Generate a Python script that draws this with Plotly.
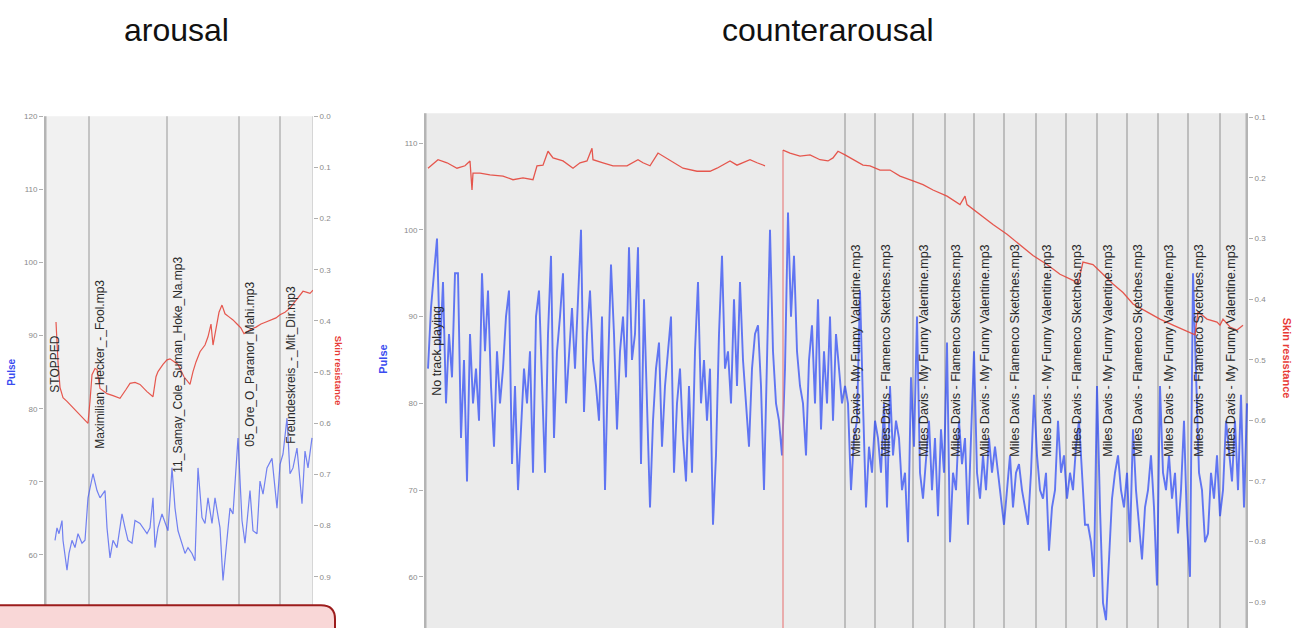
import plotly.graph_objects as go

# ---------------- data ----------------
# Left panel ("arousal"): time in seconds from the left edge of the chart
t_left_pulse = [11, 13, 15, 18, 19, 23, 25, 28, 31, 34, 38, 41, 44, 48, 49, 53, 56, 61, 63, 66,
                69, 73, 78, 81, 84, 88, 91, 96, 99, 103, 106, 109, 111, 114, 118, 121, 124, 128, 131, 134,
                138, 141, 144, 148, 151, 154, 158, 161, 164, 168, 171, 176, 179, 183, 186, 189, 194, 198, 201, 206,
                209, 213, 216, 219, 223, 228, 233, 236, 239, 243, 246, 249, 253, 256, 258, 261, 264, 268]
pulse_left = [62.0, 63.7, 62.9, 64.7, 62.0, 57.9, 60.2, 62.0, 61.0, 62.9, 61.6, 62.0, 67.8, 70.1, 71.1, 68.8, 67.8, 68.8, 63.7, 59.6,
              62.0, 61.0, 65.6, 63.7, 62.0, 61.6, 64.7, 64.3, 63.7, 62.9, 63.7, 67.8, 61.0, 63.7, 65.6, 64.3, 63.3, 71.9, 66.4, 63.3,
              61.6, 60.2, 61.0, 60.2, 59.2, 71.9, 65.1, 64.3, 67.8, 64.3, 67.8, 63.7, 56.5, 62.0, 66.4, 65.6, 76.0, 64.7, 61.6, 68.8,
              63.3, 62.9, 70.1, 68.3, 71.9, 73.2, 66.4, 72.4, 73.8, 78.7, 71.1, 71.9, 74.6, 70.1, 67.0, 74.2, 71.9, 76.0]

t_left_skin = [12, 13, 14, 16, 19, 23, 31, 38, 44, 46, 48, 51, 53, 56, 63, 69, 76, 82, 86, 91,
               96, 103, 109, 112, 114, 119, 123, 126, 130, 134, 140, 146, 149, 152, 156, 161, 164, 167, 169, 172,
               175, 178, 181, 185, 189, 193, 197, 200, 203, 207, 212, 217, 222, 227, 232, 236, 241, 246, 251, 256,
               259, 263, 266, 269]
skin_left = [0.402, 0.45, 0.48, 0.53, 0.55, 0.557, 0.573, 0.586, 0.60, 0.557, 0.505, 0.493, 0.495, 0.532, 0.542, 0.546, 0.551, 0.534, 0.522, 0.52,
             0.524, 0.538, 0.548, 0.509, 0.499, 0.485, 0.476, 0.474, 0.48, 0.485, 0.509, 0.524, 0.499, 0.48, 0.46, 0.447, 0.431, 0.406, 0.447, 0.412,
             0.383, 0.369, 0.386, 0.392, 0.398, 0.406, 0.414, 0.425, 0.421, 0.416, 0.412, 0.406, 0.402, 0.398, 0.394, 0.388, 0.383, 0.375, 0.363, 0.35,
             0.342, 0.344, 0.346, 0.34]

left_marker_t = [0, 45, 123, 195, 236]
left_marker_labels = ["STOPPED", "Maximilian_Hecker_-_Fool.mp3", "11_Samay_Cole_Suman_Hoke_Na.mp3",
                      "05_Ore_O_Paranor_Mahi.mp3", "Freundeskreis_-_Mit_Dir.mp3"]
left_end_t = 269

# Right panel ("counterarousal")
pulse_right_start = 4
pulse_right_step = 3
pulse_right = [84, 91, 95, 99, 86, 94, 80, 88, 83, 95,
               95, 76, 85, 71, 88, 80, 84, 78, 95, 86,
               93, 82, 75, 86, 80, 84, 90, 93, 73, 82,
               70, 78, 84, 80, 86, 72, 90, 93, 82, 72,
               88, 97, 76, 86, 90, 95, 80, 86, 91, 84,
               92, 100, 79, 88, 93, 85, 82, 78, 90, 70,
               84, 96, 88, 77, 86, 90, 83, 98, 85, 88,
               98, 73, 92, 80, 68, 78, 84, 87, 75, 82,
               86, 90, 72, 80, 84, 76, 71, 82, 72, 86,
               94, 80, 85, 78, 84, 66, 74, 88, 97, 84,
               86, 80, 92, 82, 94, 85, 80, 75, 84, 88,
               89, 82, 70, 84, 100, 86, 80, 78, 74, 84,
               102, 90, 97, 86, 82, 80, 74, 85, 89, 80,
               92, 77, 86, 80, 90, 78, 88, 84, 80, 82,
               80, 70, 76, 78, 93, 80, 68, 75, 72, 78,
               76, 72, 80, 68, 82, 74, 78, 76, 70, 72,
               64, 83, 75, 90, 72, 69, 74, 78, 70, 76,
               67, 77, 72, 87, 64, 72, 70, 78, 73, 76,
               66, 76, 86, 72, 69, 74, 70, 76, 72, 75,
               72, 69, 66, 70, 74, 68, 72, 73, 70, 68,
               66, 72, 81, 74, 70, 69, 72, 63, 68, 70,
               78, 72, 74, 69, 72, 70, 75, 78, 72, 66,
               66, 64, 60, 82, 68, 57, 55, 62, 69, 72,
               74, 70, 68, 72, 64, 77, 70, 66, 62, 68,
               70, 74, 68, 59, 82, 72, 70, 74, 69, 72,
               65, 70, 78, 66, 60, 95, 82, 72, 70, 64,
               65, 72, 69, 74, 67, 70, 78, 74, 71, 78,
               70, 81, 68, 80]
t_right_pulse = [pulse_right_start + i * pulse_right_step for i in range(len(pulse_right))]

t_right_skin_a = [4, 14, 23, 33, 41, 46, 48, 49, 56, 66, 79, 89, 99, 109, 113, 119, 124, 129, 139, 149,
                  156, 163, 168, 169, 179, 189, 203, 214, 219, 226, 234, 239, 249, 259, 273, 286, 293, 299, 306, 313,
                  319, 326, 333, 341]
skin_right_a = [0.184, 0.170, 0.175, 0.184, 0.180, 0.172, 0.220, 0.192, 0.192, 0.195, 0.197, 0.203, 0.200, 0.203, 0.180, 0.179, 0.156, 0.167, 0.172, 0.184,
                0.175, 0.172, 0.151, 0.170, 0.175, 0.180, 0.180, 0.170, 0.175, 0.180, 0.159, 0.164, 0.175, 0.184, 0.189, 0.189, 0.184, 0.179, 0.172, 0.179,
                0.175, 0.170, 0.175, 0.180]
t_right_skin_b = [359, 366, 376, 386, 396, 404, 409, 414, 421, 429, 439, 446, 456, 466, 476, 489, 499, 509, 523, 536,
                  541, 543, 556, 569, 583, 596, 609, 623, 636, 649, 654, 659, 669, 679, 689, 699, 709, 723, 736, 749,
                  763, 771, 774, 783, 793, 796, 799, 806, 813, 819]
skin_right_b = [0.154, 0.159, 0.164, 0.162, 0.170, 0.172, 0.167, 0.156, 0.162, 0.170, 0.179, 0.180, 0.187, 0.187, 0.197, 0.205, 0.211, 0.220, 0.230, 0.244,
                0.230, 0.244, 0.261, 0.277, 0.293, 0.310, 0.328, 0.343, 0.359, 0.369, 0.375, 0.339, 0.343, 0.359, 0.375, 0.389, 0.408, 0.421, 0.433, 0.443,
                0.454, 0.459, 0.421, 0.433, 0.438, 0.443, 0.433, 0.446, 0.451, 0.443]
skin_dropout_value = 0.96

right_marker_t = [0, 421, 451, 489, 521, 550, 580, 612, 642, 673, 703, 734, 764, 796]
right_marker_labels = ["No track playing"] + [
    "Miles Davis - My Funny Valentine.mp3" if i % 2 == 0 else "Miles Davis - Flamenco Sketches.mp3"
    for i in range(13)]
right_end_t = 824

left_pulse_ticks = [60, 70, 80, 90, 100, 110, 120]
left_skin_ticks = [0.0, 0.1, 0.2, 0.3, 0.4, 0.5, 0.6, 0.7, 0.8, 0.9]
right_pulse_ticks = [60, 70, 80, 90, 100, 110]
right_skin_ticks = [0.1, 0.2, 0.3, 0.4, 0.5, 0.6, 0.7, 0.8, 0.9]

# ---------------- layout helpers ----------------
W, H = 1296, 628
def fx(p):
    return p / W
def fy(p):
    return 1 - p / H

BLUE = "rgba(30,60,245,0.68)"
BLUE_L = "rgba(70,90,240,0.75)"
RED = "rgba(228,70,60,0.9)"
FONT = "Liberation Sans, Arial, sans-serif"

fig = go.Figure()

fig.add_trace(go.Scatter(x=t_left_pulse, y=pulse_left, mode="lines", xaxis="x", yaxis="y",
                         line=dict(color=BLUE_L, width=1.2), showlegend=False))
fig.add_trace(go.Scatter(x=t_left_skin, y=skin_left, mode="lines", xaxis="x", yaxis="y2",
                         line=dict(color=RED, width=1.2), showlegend=False))
fig.add_trace(go.Scatter(x=t_right_pulse, y=pulse_right, mode="lines", xaxis="x2", yaxis="y3",
                         line=dict(color=BLUE, width=1.9), showlegend=False))
fig.add_trace(go.Scatter(x=t_right_skin_a, y=skin_right_a, mode="lines", xaxis="x2", yaxis="y4",
                         line=dict(color=RED, width=1.3), showlegend=False))
fig.add_trace(go.Scatter(x=[t_right_skin_b[0], t_right_skin_b[0]], y=[skin_dropout_value, skin_right_b[0]],
                         mode="lines", xaxis="x2", yaxis="y4",
                         line=dict(color="rgba(232,120,120,0.55)", width=2), showlegend=False))
fig.add_trace(go.Scatter(x=t_right_skin_b, y=skin_right_b, mode="lines", xaxis="x2", yaxis="y4",
                         line=dict(color=RED, width=1.3), showlegend=False))

tickfont = dict(size=8, color="#8a8a8a", family=FONT)
common_y = dict(showgrid=False, zeroline=False, showline=False, ticks="outside", ticklen=4,
                tickcolor="#b0b0b0", tickfont=tickfont)
common_x = dict(showgrid=False, zeroline=False, showline=False, showticklabels=False, ticks="")

L_dom_x = [fx(44), fx(313)]
L_dom_y = [0, fy(113)]
R_dom_x = [fx(424), fx(1248)]
R_dom_y = [0, fy(110)]

fig.update_layout(
    width=W, height=H,
    margin=dict(l=0, r=0, t=0, b=0),
    paper_bgcolor="white", plot_bgcolor="rgba(0,0,0,0)",
    xaxis=dict(domain=L_dom_x, range=[0, left_end_t], anchor="y", **common_x),
    yaxis=dict(domain=L_dom_y, range=[50, 120], anchor="x", tickvals=left_pulse_ticks, **common_y),
    yaxis2=dict(overlaying="y", side="right", anchor="x", range=[1.0, 0.0],
                tickvals=left_skin_ticks, tickformat=".1f", **common_y),
    xaxis2=dict(domain=R_dom_x, range=[0, right_end_t], anchor="y3", **common_x),
    yaxis3=dict(domain=R_dom_y, range=[54.1, 113.44], anchor="x2", tickvals=right_pulse_ticks, **common_y),
    yaxis4=dict(overlaying="y3", side="right", anchor="x2", range=[0.9426, 0.0934],
                tickvals=right_skin_ticks, tickformat=".1f", **common_y),
)

shapes = []
# panel backgrounds
shapes.append(dict(type="rect", xref="x domain", yref="y domain", x0=0, x1=1, y0=0, y1=1,
                   fillcolor="#f1f1f1", line=dict(width=0), layer="below"))
shapes.append(dict(type="rect", xref="x2 domain", yref="y3 domain", x0=0, x1=1, y0=0, y1=1,
                   fillcolor="#ebebeb", line=dict(width=0), layer="below"))
# marker lines
for i, t in enumerate(left_marker_t):
    shapes.append(dict(type="line", xref="x", yref="y domain", x0=t, x1=t, y0=0, y1=1,
                       line=dict(color="#b4b4b4" if i == 0 else "#c4c4c4", width=5 if i == 0 else 2), layer="below"))
shapes.append(dict(type="line", xref="x", yref="y domain", x0=left_end_t, x1=left_end_t, y0=0, y1=1,
                   line=dict(color="#cdcdcd", width=1.5), layer="below"))
for i, t in enumerate(right_marker_t):
    shapes.append(dict(type="line", xref="x2", yref="y3 domain", x0=t, x1=t, y0=0, y1=1,
                       line=dict(color="#b4b4b4" if i == 0 else "#bdbdbd", width=5 if i == 0 else 2), layer="below"))
shapes.append(dict(type="line", xref="x2", yref="y3 domain", x0=right_end_t, x1=right_end_t, y0=0, y1=1,
                   line=dict(color="#b4b4b4", width=5), layer="below"))

# red rounded callout box at bottom left
bx0, bx1, by_top, by_bot, rad = -10, 335, 605, 660, 14
path = (f"M {fx(bx0)},{fy(by_bot)} L {fx(bx0)},{fy(by_top)} L {fx(bx1 - rad)},{fy(by_top)} "
        f"Q {fx(bx1)},{fy(by_top)} {fx(bx1)},{fy(by_top + rad)} L {fx(bx1)},{fy(by_bot)} Z")
shapes.append(dict(type="path", xref="paper", yref="paper", path=path,
                   fillcolor="#f9d7d7", line=dict(color="#9c1c1c", width=2), layer="above"))
fig.update_layout(shapes=shapes)

ann = []
# titles
ann.append(dict(text="arousal", x=fx(176), y=fy(26), xref="paper", yref="paper", showarrow=False,
                xanchor="center", yanchor="middle", font=dict(size=32, color="#111111", family=FONT)))
ann.append(dict(text="counterarousal", x=fx(828), y=fy(26), xref="paper", yref="paper", showarrow=False,
                xanchor="center", yanchor="middle", font=dict(size=32, color="#111111", family=FONT)))
# marker labels
for t, lab in zip(left_marker_t, left_marker_labels):
    ann.append(dict(text=lab, x=t, y=fy(363), xref="x", yref="paper", showarrow=False, textangle=-90,
                    xanchor="left", yanchor="middle", xshift=2,
                    font=dict(size=12, color="#2a2a2a", family=FONT)))
for t, lab in zip(right_marker_t, right_marker_labels):
    ann.append(dict(text=lab, x=t, y=fy(349), xref="x2", yref="paper", showarrow=False, textangle=-90,
                    xanchor="left", yanchor="middle", xshift=2 if t else 4,
                    font=dict(size=12.5, color="#2a2a2a", family=FONT)))
# axis titles
ann.append(dict(text="<b>Pulse</b>", x=fx(12), y=fy(371), xref="paper", yref="paper", showarrow=False,
                textangle=-90, xanchor="center", yanchor="middle", font=dict(size=10, color="#3a4cf0", family=FONT)))
ann.append(dict(text="<b>Skin resistance</b>", x=fx(338), y=fy(369), xref="paper", yref="paper", showarrow=False,
                textangle=90, xanchor="center", yanchor="middle", font=dict(size=9.5, color="#e83a35", family=FONT)))
ann.append(dict(text="<b>Pulse</b>", x=fx(383), y=fy(358), xref="paper", yref="paper", showarrow=False,
                textangle=-90, xanchor="center", yanchor="middle", font=dict(size=11, color="#3a4cf0", family=FONT)))
ann.append(dict(text="<b>Skin resistance</b>", x=fx(1287), y=fy(356), xref="paper", yref="paper", showarrow=False,
                textangle=90, xanchor="center", yanchor="middle", font=dict(size=11, color="#e83a35", family=FONT)))
fig.update_layout(annotations=ann)

fig.write_html("out.html", config={"displayModeBar": False},
               post_script="document.body.style.margin='0px';document.body.style.overflow='hidden';")
